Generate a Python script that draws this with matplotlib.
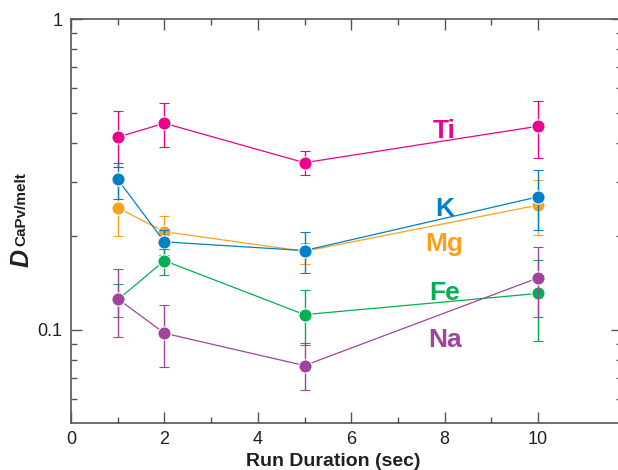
import matplotlib
matplotlib.use("Agg")
import matplotlib.pyplot as plt
from matplotlib.ticker import FixedLocator, NullFormatter

plt.rcParams['font.family'] = ['Liberation Sans', 'DejaVu Sans']

duration = [1, 2, 5, 10]
elements = ["Ti", "K", "Mg", "Fe", "Na"]
colors = {"Ti": "#EC008C", "K": "#0080C6", "Mg": "#F9A11B", "Fe": "#00B050", "Na": "#A0449E"}

ti = [0.417, 0.462, 0.345, 0.452]
ti_hi = [0.505, 0.537, 0.375, 0.545]
ti_lo = [0.335, 0.387, 0.314, 0.358]

k = [0.305, 0.192, 0.180, 0.268]
k_hi = [0.344, 0.210, 0.207, 0.327]
k_lo = [0.264, 0.174, 0.153, 0.209]

mg = [0.247, 0.207, 0.179, 0.252]
mg_hi = [0.300, 0.232, 0.190, 0.304]
mg_lo = [0.200, 0.182, 0.163, 0.202]

fe = [0.125, 0.167, 0.112, 0.131]
fe_hi = [0.141, 0.182, 0.134, 0.168]
fe_lo = [0.110, 0.150, 0.0895, 0.0924]

na = [0.126, 0.0976, 0.0768, 0.147]
na_hi = [0.157, 0.120, 0.0906, 0.185]
na_lo = [0.095, 0.0759, 0.0641, 0.110]

label_x = 8.0
label_y = {"Ti": 0.436, "K": 0.245, "Mg": 0.189, "Fe": 0.131, "Na": 0.093}

series = {"Ti": (ti, ti_lo, ti_hi), "K": (k, k_lo, k_hi), "Mg": (mg, mg_lo, mg_hi),
          "Fe": (fe, fe_lo, fe_hi), "Na": (na, na_lo, na_hi)}

fig = plt.figure(figsize=(6.18, 4.70), dpi=100)
ax = fig.add_axes([71/618, 47/470, (622-71)/618, (423-19)/470])
ax.set_yscale('log')
ax.set_xlim(0, (622-71)/46.7)
ax.set_ylim(0.0502, 1.0)

order = ["Ti", "Mg", "K", "Fe", "Na"]
for z, name in enumerate(order):
    v, lo, hi = series[name]
    c = colors[name]
    yerr = [[a - b for a, b in zip(v, lo)], [b - a for a, b in zip(v, hi)]]
    ax.errorbar(duration, v, yerr=yerr, color=c, lw=0.9, elinewidth=1.0,
                capsize=3.6, capthick=1.0, marker='o', ms=9.5, mfc=c,
                mec='white', mew=0.8, zorder=3 + z)
    ax.text(label_x, label_y[name], name, color=c, fontsize=19, fontweight='bold',
            ha='center', va='center')

gray = '#555555'
for s in ['left', 'bottom', 'top', 'right']:
    ax.spines[s].set_color(gray)
    ax.spines[s].set_linewidth(1.2)

ax.xaxis.set_major_locator(FixedLocator([0, 2, 4, 6, 8, 10]))
ax.xaxis.set_minor_locator(FixedLocator([1, 3, 5, 7, 9]))
ax.set_xticklabels(["0", "2", "4", "6", "8", "10"])
ax.yaxis.set_major_locator(FixedLocator([0.1, 1.0]))
ax.set_yticklabels(["0.1", "1"])
ax.yaxis.set_minor_locator(FixedLocator([0.06, 0.07, 0.08, 0.09, 0.2, 0.3, 0.4, 0.5, 0.6, 0.7, 0.8, 0.9]))
ax.yaxis.set_minor_formatter(NullFormatter())
ax.tick_params(which='both', direction='in', color=gray, width=1.0, labelsize=13,
               labelcolor='#231f20', right=True, top=True)
ax.tick_params(which='major', length=8, pad=6)
ax.tick_params(which='minor', length=4.5)

ax.set_xlabel("Run Duration (sec)", fontsize=14, fontweight='bold', color='#231f20')
ax.xaxis.set_label_coords((333-71)/551, -0.075)

fig.text(22/618, 1 - 258/470, "D", rotation=90, fontsize=18, fontweight='bold', style='italic',
         color='#231f20', ha='center', va='center')
fig.text(21/618, 1 - 209/470, "CaPv/melt", rotation=90, fontsize=11, fontweight='bold',
         color='#231f20', ha='center', va='center')

fig.savefig("out.png", dpi=100)
